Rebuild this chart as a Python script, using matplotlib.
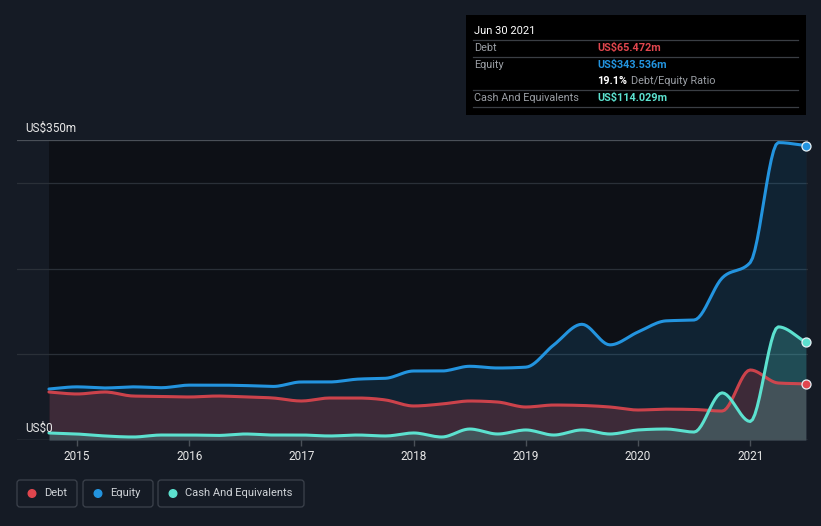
import numpy as np
import matplotlib
matplotlib.use("Agg")
import matplotlib.pyplot as plt
from matplotlib.patches import FancyBboxPatch, Rectangle, Circle

plt.rcParams['font.family'] = ['Roboto', 'DejaVu Sans']

# ---------------- data (US$ millions) ----------------
dates = [2014.75, 2015.0, 2015.25, 2015.5, 2015.75, 2016.0, 2016.25, 2016.5, 2016.75,
         2017.0, 2017.25, 2017.5, 2017.75, 2018.0, 2018.25, 2018.5, 2018.75,
         2019.0, 2019.25, 2019.5, 2019.75, 2020.0, 2020.25, 2020.5, 2020.75,
         2021.0, 2021.25, 2021.496]
equity = [59.5, 62, 60.7, 62, 61, 64, 64, 63.5, 62.5,
          67.7, 67.7, 71, 72, 80.5, 80.5, 86, 84,
          85, 111, 135, 111, 126, 139, 140, 189,
          207, 347, 343.536]
debt = [56, 53.7, 56, 51.3, 50.8, 50.2, 51.3, 50.2, 49,
        45.5, 49, 49, 46.7, 39.7, 42, 45.5, 44.3,
        38.5, 40.8, 40.3, 38.5, 35, 36, 35.6, 33.8,
        81.7, 66.5, 65.472]
cash = [8.2, 7, 4.7, 3.5, 5.8, 5.8, 5.3, 7, 5.8,
        5.8, 4.7, 5.8, 4.7, 8.2, 3.5, 12.8, 7,
        11.7, 5.8, 11.7, 7, 11.7, 12.8, 9.3, 55,
        21.6, 132, 114.029]
year_ticks = [2015, 2016, 2017, 2018, 2019, 2020, 2021]

BG = '#151b25'
PLOT_BG = '#0d1016'
C_DEBT = '#e0464e'
C_EQ = '#2394df'
C_CASH = '#5ce1cf'


def monotone(x, y, n=12):
    """Monotone cubic (Steffen) interpolation for drawing smooth lines."""
    x = np.asarray(x, float); y = np.asarray(y, float)
    h = np.diff(x); d = np.diff(y) / h
    m = np.zeros_like(y)
    for i in range(1, len(y) - 1):
        p = (d[i - 1] * h[i] + d[i] * h[i - 1]) / (h[i - 1] + h[i])
        m[i] = (np.sign(d[i - 1]) + np.sign(d[i])) * min(abs(d[i - 1]), abs(d[i]), 0.5 * abs(p))
    m[0] = d[0]; m[-1] = d[-1]
    xs, ys = [], []
    for i in range(len(h)):
        t = np.linspace(0, 1, n, endpoint=(i == len(h) - 1))
        h00 = 2 * t**3 - 3 * t**2 + 1; h10 = t**3 - 2 * t**2 + t
        h01 = -2 * t**3 + 3 * t**2; h11 = t**3 - t**2
        xs.append(x[i] + t * h[i])
        ys.append(h00 * y[i] + h10 * h[i] * m[i] + h01 * y[i + 1] + h11 * h[i] * m[i + 1])
    return np.concatenate(xs), np.concatenate(ys)


W, H = 821, 526
fig = plt.figure(figsize=(W / 100, H / 100), dpi=100, facecolor=BG)

# main axes in pixel layout
L, R, T, B = 17, 808, 140, 440
ax = fig.add_axes([L / W, 1 - B / H, (R - L) / W, (B - T) / H])
ax.set_facecolor(BG)
x_left = 2015 + (L - 77) / 112.2
x_right = 2015 + (R - 77) / 112.2
ax.set_xlim(x_left, x_right)
ax.set_ylim(0, 350)
for s in ax.spines.values():
    s.set_visible(False)

# darker plot region over the data span
ax.fill_between([dates[0], dates[-1]], 0, 350, color=PLOT_BG, lw=0, zorder=0)

# grid lines
for v in [100, 200, 300]:
    ax.axhline(v, color='#2a3038', lw=0.9, zorder=1)
ax.axhline(350, color='#4a5058', lw=0.9, zorder=1)
ax.axhline(0, color='#4a5058', lw=1.0, zorder=6)

xe, ye = monotone(dates, equity)
xd, yd = monotone(dates, debt)
xc, yc = monotone(dates, cash)

ax.fill_between(xe, 0, ye, color=C_EQ, alpha=0.15, lw=0, zorder=2)
ax.fill_between(xd, 0, yd, color=C_DEBT, alpha=0.22, lw=0, zorder=2)
ax.fill_between(xc, 0, yc, color=C_CASH, alpha=0.22, lw=0, zorder=2)

ax.plot(xe, ye, color=C_EQ, lw=2.2, zorder=4, solid_capstyle='round')
ax.plot(xd, yd, color=C_DEBT, lw=2.2, zorder=4, alpha=0.9, solid_capstyle='round')
ax.plot(xc, yc, color=C_CASH, lw=2.2, zorder=5, solid_capstyle='round')

for series, c in [(equity, C_EQ), (debt, C_DEBT), (cash, C_CASH)]:
    ax.plot(dates[-1], series[-1], 'o', ms=6.5, color=c, mec='#e6f0f5', mew=0.9, zorder=7, clip_on=False)

ax.set_xticks(year_ticks)
ax.set_xticklabels([str(y) for y in year_ticks])
ax.tick_params(axis='x', colors='#4a5058', length=4, width=1, labelcolor='#e8e8e8',
               labelsize=8.5, pad=3)
ax.set_yticks([])

# overlay in pixel coordinates for labels, tooltip and legend
ov = fig.add_axes([0, 0, 1, 1], facecolor='none')
ov.set_xlim(0, W); ov.set_ylim(H, 0); ov.axis('off')

ov.text(25, 128, 'US$350m', color='#e8e8e8', fontsize=8.5, va='center', ha='left')
ov.text(25, 428, 'US$0', color='#e8e8e8', fontsize=8.5, va='center', ha='left', zorder=10)

# tooltip
ov.add_patch(Rectangle((466, 15), 340, 100, facecolor='#000000', edgecolor='none', zorder=10))
for yy in [40, 57, 90, 107]:
    ov.plot([473, 798], [yy, yy], color='#3a3e44', lw=0.9, zorder=11)
ov.text(474, 31, 'Jun 30 2021', color='#ffffff', fontsize=8, va='center', zorder=12)
ov.text(474, 48, 'Debt', color='#9a9ea4', fontsize=7.8, va='center', zorder=12)
ov.text(597, 48, 'US$65.472m', color=C_DEBT, fontsize=7.8, va='center', fontweight='bold', zorder=12)
ov.text(474, 65, 'Equity', color='#9a9ea4', fontsize=7.8, va='center', zorder=12)
ov.text(597, 65, 'US$343.536m', color=C_EQ, fontsize=7.8, va='center', fontweight='bold', zorder=12)
ov.text(597, 81, '19.1%', color='#ffffff', fontsize=7.8, va='center', fontweight='bold', zorder=12)
ov.text(631, 81, 'Debt/Equity Ratio', color='#9a9ea4', fontsize=7.8, va='center', zorder=12)
ov.text(474, 98, 'Cash And Equivalents', color='#9a9ea4', fontsize=7.8, va='center', zorder=12)
ov.text(597, 98, 'US$114.029m', color=C_CASH, fontsize=7.8, va='center', fontweight='bold', zorder=12)

# legend
legend_items = [('Debt', C_DEBT, 17, 77), ('Equity', C_EQ, 83, 153), ('Cash And Equivalents', C_CASH, 158, 304)]
for label, c, x0, x1 in legend_items:
    ov.add_patch(FancyBboxPatch((x0, 480), x1 - x0, 27, boxstyle='round,pad=0,rounding_size=3',
                                facecolor=BG, edgecolor='#3c424c', lw=0.9))
    ov.add_patch(Circle((x0 + 15, 493.5), 3.8, color=c))
    ov.text(x0 + 27, 493.5, label, color='#d0d4d8', fontsize=8, va='center', ha='left')

fig.savefig('out.png', dpi=100, facecolor=BG)
